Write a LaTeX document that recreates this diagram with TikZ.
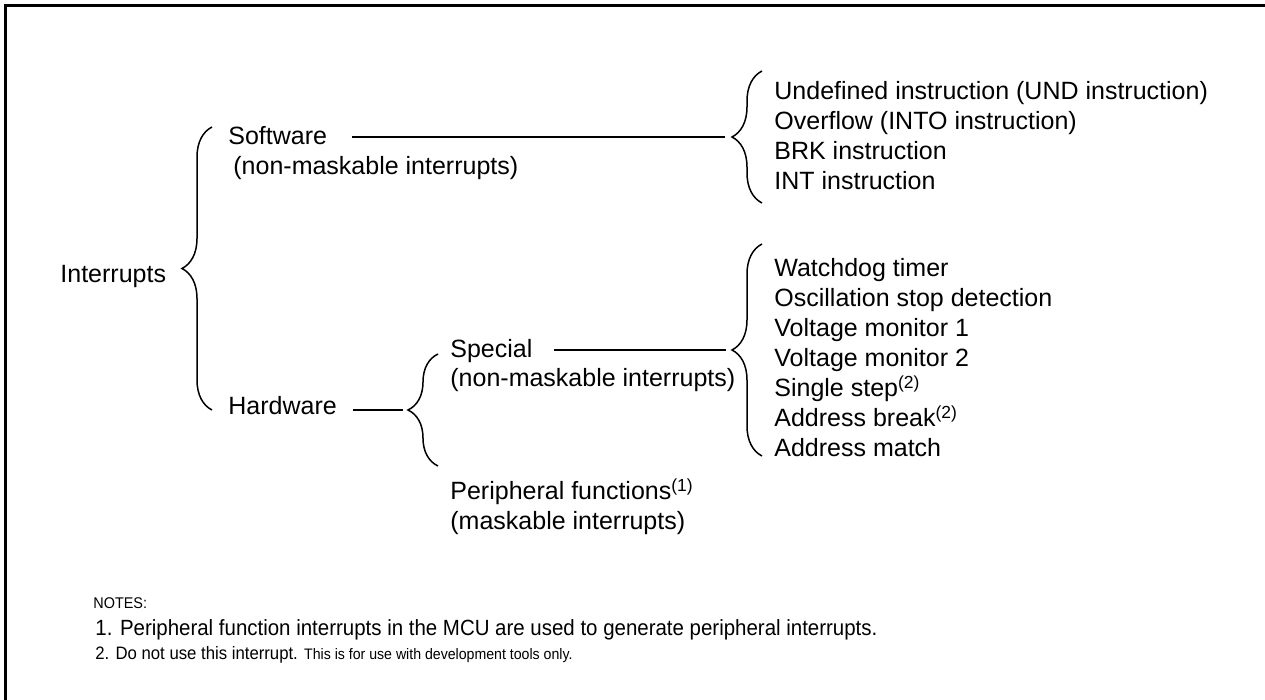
\documentclass[tikz,border=0pt]{standalone}
\usepackage{fontspec}
\setmainfont{Liberation Sans}
\newfontfamily\notefont[FakeStretch=0.93]{Liberation Sans}
\usetikzlibrary{decorations.pathreplacing,positioning}
\tikzset{
  txt/.style={anchor=base west,inner sep=0pt,font=\fontsize{12.5}{15}\selectfont},
  notetxt/.style={anchor=base west,inner sep=0pt,font=\notefont\fontsize{11}{13}\selectfont},
  curly/.style={decorate,decoration={brace,amplitude=15pt},line width=0.75pt},
  link/.style={line width=0.75pt},
}

\begin{document}
\begin{tikzpicture}[x=0.5pt,y=-0.5pt]
      \useasboundingbox (0,0) rectangle (1265,700);
      \draw[line width=1.5pt] (5.5,700) -- (5.5,5.5) -- (1265,5.5);

      % root
      \node[txt] (root) at (60,283) {Interrupts};
      \draw[curly] (212,410) -- (212,127);

      % software branch
      \node[txt] (sw) at (228,145) {Software};
      \node[txt] (swsub) at (233,175) {(non-maskable interrupts)};
      \draw[curly] (762,203) -- (762,71);
      \coordinate (swtip) at (732,137);
      \draw[link] ([xshift=12.5pt]sw.east |- swtip) -- ([xshift=-3.5pt]swtip);

      \node[txt] (und) at (774,100) {Undefined instruction (UND instruction)};
      \node[txt] (into) at (774,130) {Overflow (INTO instruction)};
      \node[txt] (brk) at (774,160) {BRK instruction};
      \node[txt] (int) at (774,190) {INT instruction};

      % hardware branch
      \node[txt] (hw) at (228,415) {Hardware};
      \draw[curly] (438,466) -- (438,354);
      \coordinate (hwtip) at (408,410);
      \draw[link] ([xshift=8pt]hw.east |- hwtip) -- ([xshift=-2.5pt]hwtip);

      \node[txt] (spc) at (450,358) {Special};
      \node[txt] (spcsub) at (450,387) {(non-maskable interrupts)};
      \node[txt] (per) at (450,500) {Peripheral functions\textsuperscript{(1)}};
      \node[txt] (persub) at (450,530) {(maskable interrupts)};

      \draw[curly] (762,456) -- (762,244);
      \coordinate (spctip) at (732,350);
      \draw[link] ([xshift=10.5pt]spc.east |- spctip) -- ([xshift=-3pt]spctip);

      \node[txt] (wdt) at (774,277) {Watchdog timer};
      \node[txt] (osc) at (774,307) {Oscillation stop detection};
      \node[txt] (vm1) at (774,337) {Voltage monitor 1};
      \node[txt] (vm2) at (774,367) {Voltage monitor 2};
      \node[txt] (sstep) at (774,397) {Single step\textsuperscript{(2)}};
      \node[txt] (abrk) at (774,427) {Address break\textsuperscript{(2)}};
      \node[txt] (amatch) at (774,457) {Address match};

      % notes
      \node[notetxt,font=\notefont\fontsize{7.75}{9}\selectfont] (notes) at (93,608) {NOTES:};
      \node[notetxt] (note1) at (95,635) {1. Peripheral function interrupts in the MCU are used to generate peripheral interrupts.};
      \node[notetxt,font=\notefont\fontsize{9}{11}\selectfont] (note2) at (95,659) {2. Do not use this interrupt. {\fontsize{7.6}{9}\selectfont This is for use with development tools only.}};
    \end{tikzpicture}
\end{document}
